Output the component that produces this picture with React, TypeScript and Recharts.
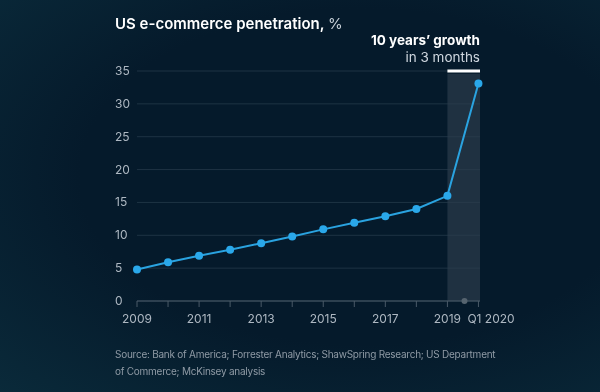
import { LineChart, Line, XAxis, YAxis, CartesianGrid, ReferenceArea, ReferenceLine, ReferenceDot } from 'recharts'

const years = ['2009', '2010', '2011', '2012', '2013', '2014', '2015', '2016', '2017', '2018', '2019', 'Q1 2020']
const penetration = [4.8, 5.9, 6.9, 7.8, 8.8, 9.8, 10.9, 11.9, 12.9, 14.0, 16.0, 33.1]
const yTicks = [0, 5, 10, 15, 20, 25, 30, 35]
const labelled = ['2009', '2011', '2013', '2015', '2017', '2019', 'Q1 2020']

const data = years.map((y, i) => ({ idx: i, year: y, value: penetration[i] }))

const FONT = 'Inter, "Liberation Sans", Arial, sans-serif'
const MUTED = '#aeb8c2'

function YTick(props: any) {
  return (
    <text x={115} y={props.y} dy={4} fill={MUTED} fontSize={12} fontFamily={FONT} textAnchor="start">
      {props.payload.value}
    </text>
  )
}

function XTick(props: any) {
  const label = years[props.payload.value]
  if (!labelled.includes(label)) return null
  const last = label === 'Q1 2020'
  return (
    <text
      x={last ? props.x - 11 : props.x}
      y={props.y + 14}
      fill={MUTED}
      fontSize={12}
      fontFamily={FONT}
      textAnchor={last ? 'start' : 'middle'}
    >
      {label}
    </text>
  )
}

export default function App() {
  return (
    <div
      style={{
        position: 'fixed',
        left: 0,
        top: 0,
        width: 600,
        height: 392,
        background: 'radial-gradient(ellipse at 60% 45%, #051a2b 55%, #0a2a3a 100%)',
        fontFamily: FONT,
        overflow: 'hidden',
      }}
    >
      <div style={{ position: 'absolute', left: 115, top: 14, color: '#ffffff', fontSize: 15, fontWeight: 600 }}>
        US e-commerce penetration, <span style={{ fontWeight: 400, color: '#c8d0d8' }}>%</span>
      </div>
      <div style={{ position: 'absolute', right: 120, top: 32, textAlign: 'right', lineHeight: '17px' }}>
        <div style={{ color: '#ffffff', fontSize: 13.5, fontWeight: 700 }}>10 years’ growth</div>
        <div style={{ color: '#d0d8e0', fontSize: 13.5 }}>in 3 months</div>
      </div>
      <LineChart width={600} height={392} data={data} margin={{ top: 71, right: 120, bottom: 61, left: 107 }}>
        <CartesianGrid vertical={false} stroke="#1e3344" strokeWidth={1} />
        <ReferenceArea x1={10} x2={11.05} y1={0} y2={34.6} fill="#2b3c4c" fillOpacity={0.7} stroke="none" />
        <ReferenceLine segment={[{ x: 10, y: 35 }, { x: 11.05, y: 35 }]} stroke="#ffffff" strokeWidth={3} />
        <XAxis
          dataKey="idx"
          type="number"
          domain={[0, 11.05]}
          ticks={years.map((_, i) => i)}
          interval={0}
          stroke="#4a5a68"
          tickLine={{ stroke: '#4a5a68' }}
          tickSize={6}
          tick={<XTick />}
        />
        <YAxis width={30} domain={[0, 35]} ticks={yTicks} axisLine={false} tickLine={false} tick={<YTick />} />
        <ReferenceDot x={10.55} y={0} r={3} fill="#56646f" stroke="none" />
        <Line
          dataKey="value"
          stroke="#2aa3e0"
          strokeWidth={2}
          dot={{ r: 4, fill: '#2aa8ea', stroke: 'none' }}
          isAnimationActive={false}
        />
      </LineChart>
      <div
        style={{
          position: 'absolute',
          left: 115,
          top: 346,
          width: 390,
          color: '#8f9aa5',
          fontSize: 10,
          letterSpacing: -0.25,
          lineHeight: '17px',
        }}
      >
        Source: Bank of America; Forrester Analytics; ShawSpring Research; US Department of Commerce; McKinsey analysis
      </div>
    </div>
  )
}
